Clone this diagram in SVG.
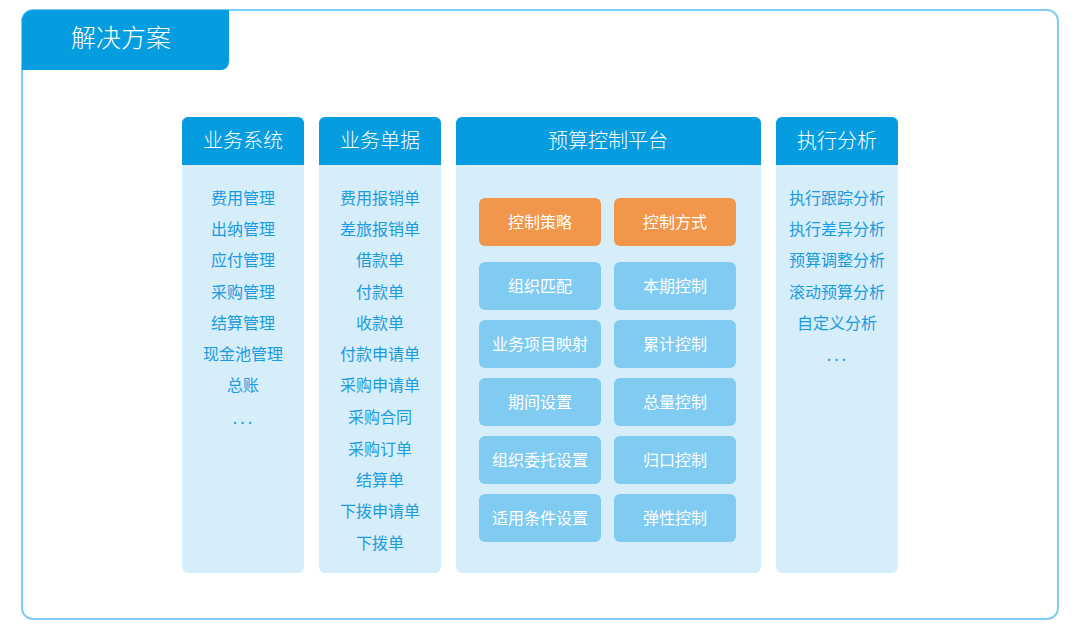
<svg xmlns="http://www.w3.org/2000/svg" width="1081" height="629" viewBox="0 0 1081 629">
<style>
text{font-family:"Noto Sans CJK SC","Noto Sans",sans-serif;text-anchor:middle}
.hd{fill:#059ddf}
.bd{fill:#d6edfa}
.ht{fill:#fff;font-size:20px;font-weight:300}
.it{fill:#1b9be0;font-size:16px}
.dt{fill:#1b9be0;font-size:16px;letter-spacing:3px}
.ob{fill:#f1964b}
.lb{fill:#7fcbf2}
.bt{fill:#fff;font-size:16px}
</style>
<rect width="1081" height="629" fill="#fff"/>
<g id="frame">
<rect x="22" y="10" width="1036" height="609" rx="11" fill="#fff" stroke="#7fcdf5" stroke-width="2"/>
<path d="M22,70 V21 A11,11 0 0 1 33,10 H229 V62 A8,8 0 0 1 221,70 Z" fill="#059ddf"/>
<text x="121" y="47" style="fill:#fff;font-size:25px;font-weight:300">解决方案</text>
</g>
<g id="col-business-system">
<rect class="bd" x="182" y="117" width="122" height="456" rx="6"/>
<path class="hd" d="M182,165 V123 A6,6 0 0 1 188,117 H298 A6,6 0 0 1 304,123 V165 Z"/>
<text class="ht" x="243" y="148">业务系统</text>
<text class="it" x="243" y="204">费用管理</text>
<text class="it" x="243" y="235">出纳管理</text>
<text class="it" x="243" y="266">应付管理</text>
<text class="it" x="243" y="298">采购管理</text>
<text class="it" x="243" y="329">结算管理</text>
<text class="it" x="243" y="360">现金池管理</text>
<text class="it" x="243" y="391">总账</text>
<text class="dt" x="244" y="424">...</text>
</g>
<g id="col-business-docs">
<rect class="bd" x="319" y="117" width="122" height="456" rx="6"/>
<path class="hd" d="M319,165 V123 A6,6 0 0 1 325,117 H435 A6,6 0 0 1 441,123 V165 Z"/>
<text class="ht" x="380" y="148">业务单据</text>
<text class="it" x="380" y="204">费用报销单</text>
<text class="it" x="380" y="235">差旅报销单</text>
<text class="it" x="380" y="266">借款单</text>
<text class="it" x="380" y="298">付款单</text>
<text class="it" x="380" y="329">收款单</text>
<text class="it" x="380" y="360">付款申请单</text>
<text class="it" x="380" y="391">采购申请单</text>
<text class="it" x="380" y="423">采购合同</text>
<text class="it" x="380" y="455">采购订单</text>
<text class="it" x="380" y="486">结算单</text>
<text class="it" x="380" y="517">下拨申请单</text>
<text class="it" x="380" y="549">下拨单</text>
</g>
<g id="col-budget-platform">
<rect class="bd" x="456" y="117" width="305" height="456" rx="6"/>
<path class="hd" d="M456,165 V123 A6,6 0 0 1 462,117 H755 A6,6 0 0 1 761,123 V165 Z"/>
<text class="ht" x="608" y="148">预算控制平台</text>
</g>
<g id="box-strategy"><rect class="ob" x="479" y="198" width="122" height="48" rx="6"/><text class="bt" x="540" y="228">控制策略</text></g>
<g id="box-method"><rect class="ob" x="614" y="198" width="122" height="48" rx="6"/><text class="bt" x="675" y="228">控制方式</text></g>
<g id="box-org-match"><rect class="lb" x="479" y="262" width="122" height="48" rx="6"/><text class="bt" x="540" y="292">组织匹配</text></g>
<g id="box-period-ctrl"><rect class="lb" x="614" y="262" width="122" height="48" rx="6"/><text class="bt" x="675" y="292">本期控制</text></g>
<g id="box-item-map"><rect class="lb" x="479" y="320" width="122" height="48" rx="6"/><text class="bt" x="540" y="350">业务项目映射</text></g>
<g id="box-cumulative"><rect class="lb" x="614" y="320" width="122" height="48" rx="6"/><text class="bt" x="675" y="350">累计控制</text></g>
<g id="box-period-set"><rect class="lb" x="479" y="378" width="122" height="48" rx="6"/><text class="bt" x="540" y="408">期间设置</text></g>
<g id="box-total"><rect class="lb" x="614" y="378" width="122" height="48" rx="6"/><text class="bt" x="675" y="408">总量控制</text></g>
<g id="box-org-delegate"><rect class="lb" x="479" y="436" width="122" height="48" rx="6"/><text class="bt" x="540" y="466">组织委托设置</text></g>
<g id="box-centralized"><rect class="lb" x="614" y="436" width="122" height="48" rx="6"/><text class="bt" x="675" y="466">归口控制</text></g>
<g id="box-condition"><rect class="lb" x="479" y="494" width="122" height="48" rx="6"/><text class="bt" x="540" y="524">适用条件设置</text></g>
<g id="box-elastic"><rect class="lb" x="614" y="494" width="122" height="48" rx="6"/><text class="bt" x="675" y="524">弹性控制</text></g>
<g id="col-analysis">
<rect class="bd" x="776" y="117" width="122" height="456" rx="6"/>
<path class="hd" d="M776,165 V123 A6,6 0 0 1 782,117 H892 A6,6 0 0 1 898,123 V165 Z"/>
<text class="ht" x="837" y="148">执行分析</text>
<text class="it" x="837" y="204">执行跟踪分析</text>
<text class="it" x="837" y="235">执行差异分析</text>
<text class="it" x="837" y="266">预算调整分析</text>
<text class="it" x="837" y="298">滚动预算分析</text>
<text class="it" x="837" y="329">自定义分析</text>
<text class="dt" x="838" y="361">...</text>
</g>
<g id="connectors"/>
</svg>
